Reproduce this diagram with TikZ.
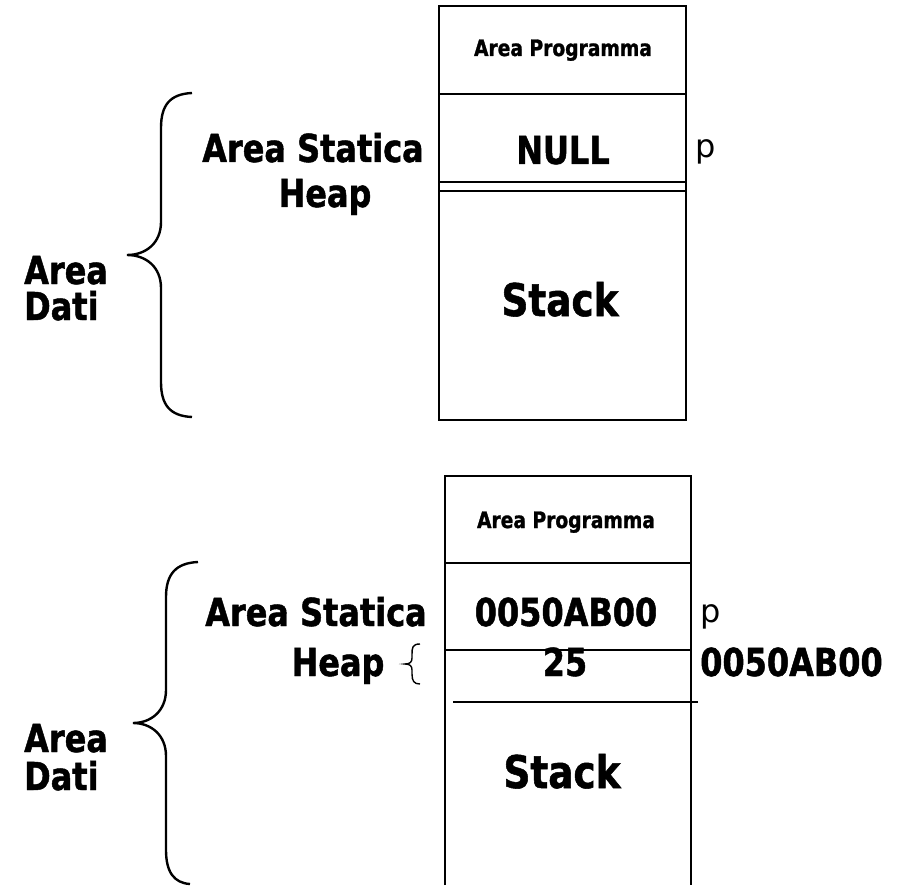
\documentclass[tikz,border=0pt]{standalone}
\usepackage{fontspec}
\setmainfont{DejaVu Sans}[BoldFeatures={FakeStretch=0.83,FakeBold=1.2}]
\begin{document}
\begin{tikzpicture}[x=1pt,y=-1pt,
  box/.style={line width=2.9pt},
  brace/.style={line width=2.4pt},
  big/.style={font=\fontsize{38.5}{42}\selectfont\bfseries, inner sep=0pt, anchor=base},
  huge/.style={font=\fontsize{45}{48}\selectfont\bfseries, inner sep=0pt, anchor=base},
  small/.style={font=\fontsize{22.5}{26}\selectfont\bfseries, inner sep=0pt, anchor=base},
  plain/.style={font=\fontsize{32}{34}\selectfont, inner sep=0pt, anchor=base west}]
\useasboundingbox (0,0) rectangle (917,885);
% ---------- top diagram ----------
\draw[box] (439,6) rectangle (686,420);
\draw[box] (439,94) -- (686,94);
\draw[box] (439,182) -- (686,182);
\draw[box] (439,191) -- (686,191);
\node[small] (ap1) at (563,56) {Area Programma};
\node[big] (null) at (563,164) {NULL};
\node[plain] (p1) at (695,158) {p};
\node[huge] (st1) at (560,316) {Stack};
\node[big] (as1) at (313,162) {Area Statica};
\node[big] (hp1) at (325,207) {Heap};
\node[big, anchor=base west] (ar1) at (24,284) {Area};
\node[big, anchor=base west] (dt1) at (24,320) {Dati};
\draw[brace] (192,93) .. controls (170,94) and (161,105) .. (161,128) -- (161,222)
  .. controls (161,243) and (146,255) .. (127,255)
  .. controls (146,255) and (161,267) .. (161,288) -- (161,382)
  .. controls (161,405) and (170,416) .. (192,417);
% ---------- bottom diagram ----------
\draw[box] (445,885) -- (445,476) -- (691,476) -- (691,885);
\draw[box] (445,563) -- (691,563);
\draw[box] (445,650) -- (691,650);
\draw[box] (453,702) -- (698,702);
\node[small] (ap2) at (566,528) {Area Programma};
\node[big] (addr) at (566,626) {0050AB00};
\node[plain] (p2) at (700,622) {p};
\node[big] (n25) at (565,676) {25};
\node[big, anchor=base west] (addr2) at (700,676) {0050AB00};
\node[huge] (st2) at (562,788) {Stack};
\node[big] (as2) at (316,626) {Area Statica};
\node[big] (hp2) at (338,676) {Heap};
\node[big, anchor=base west] (ar2) at (24,752) {Area};
\node[big, anchor=base west] (dt2) at (24,790) {Dati};
\draw[brace] (198,562) .. controls (176,563) and (166,574) .. (166,597) -- (166,690)
  .. controls (166,711) and (151,723) .. (133,723)
  .. controls (151,723) and (166,735) .. (166,756) -- (166,850)
  .. controls (166,872) and (174,883) .. (190,884);
\draw[line width=1.4pt] (420,644) .. controls (412,644) and (412,648) .. (412,655) -- (412,658)
  .. controls (412,662) and (410,664) .. (405,664)
  .. controls (410,664) and (412,666) .. (412,670) -- (412,674)
  .. controls (412,681) and (414,684) .. (420,684);
\end{tikzpicture}
\end{document}
